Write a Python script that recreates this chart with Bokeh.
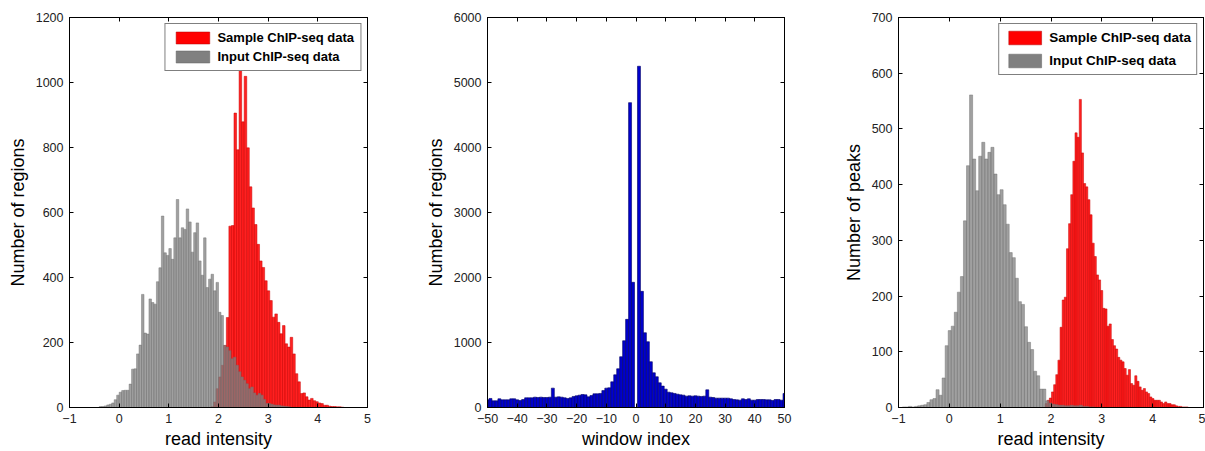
import numpy as np
from bokeh.plotting import figure
from bokeh.models import Range1d, LinearAxis, FixedTicker, Legend, LegendItem
from bokeh.layouts import row
from bokeh.embed import file_html
from bokeh.resources import INLINE

# ---------------- data ----------------
# Panel 1 : read intensity histograms (regions)
p1_input_start = -0.375
p1_input_width = 0.05
p1_input_counts = [3, 3, 5, 8, 10, 14, 24, 38, 47, 52, 53, 53, 72, 118, 119, 165, 192, 348, 229, 226,
                   334, 323, 318, 387, 430, 589, 476, 468, 489, 456, 522, 640, 522, 553, 548, 611, 571,
                   478, 538, 568, 451, 407, 522, 369, 395, 410, 359, 385, 293, 283, 191, 186, 175, 150,
                   155, 130, 110, 94, 84, 73, 58, 63, 45, 38, 43, 38, 25, 12, 12, 10, 8, 7, 7, 5, 4, 3, 2]
p1_sample_start = 1.875
p1_sample_width = 0.0514
p1_sample_counts = [2, 17, 58, 94, 130, 191, 277, 558, 560, 906, 793, 1059, 879, 1019, 799, 679, 614,
                    563, 502, 451, 431, 390, 359, 329, 278, 288, 262, 227, 252, 196, 186, 216, 165, 104,
                    79, 43, 45, 33, 23, 28, 21, 18, 14, 12, 7, 7, 4, 3, 3, 2, 2, 1]

# Panel 2 : window index histogram
p2_window_index = list(range(-50, 51))
p2_counts = [118, 139, 103, 103, 134, 118, 118, 118, 134, 134,      # -50..-41
             118, 108, 123, 149, 149, 149, 159, 154, 159, 154,      # -40..-31
             154, 159, 298, 159, 164, 159, 149, 139, 149, 170,      # -30..-21
             180, 190, 200, 195, 164, 185, 211, 211, 216, 260,      # -20..-11
             298, 303, 395, 503, 596, 781, 1027, 1356, 4690, 1926,  # -10..-1
             0,                                                     # 0
             5250, 1787, 1150, 1012, 704, 534, 473, 380, 329, 282,  # 1..10
             236, 226, 216, 205, 195, 190, 175, 180, 175, 180,      # 11..20
             175, 170, 175, 272, 159, 154, 144, 144, 144, 144,      # 21..30
             144, 134, 123, 118, 113, 134, 123, 134, 113, 113,      # 31..40
             123, 123, 123, 118, 118, 108, 123, 123, 113, 216]      # 41..50

# Panel 3 : read intensity histograms (peaks)
p3_input_start = -0.892
p3_input_width = 0.06
p3_input_counts = [1, 1, 2, 1, 2, 3, 4, 5, 9, 14, 16, 32, 22, 53, 111, 138, 146, 171, 207, 235, 335,
                   434, 561, 446, 389, 451, 476, 446, 458, 467, 419, 382, 391, 364, 329, 278, 269, 232,
                   190, 185, 145, 117, 104, 65, 57, 33, 33, 12, 8, 6, 5, 4, 4, 3, 3, 4, 3, 3, 4, 2, 2, 1, 1]
p3_sample_start = 1.905
p3_sample_width = 0.042
p3_sample_counts = [7, 13, 17, 28, 41, 59, 85, 144, 193, 198, 285, 330, 382, 442, 493, 485, 553, 457,
                    402, 396, 373, 346, 295, 271, 238, 229, 210, 178, 177, 146, 150, 122, 111, 105, 90,
                    85, 82, 70, 58, 68, 43, 40, 57, 47, 37, 31, 34, 28, 25, 19, 16, 13, 13, 13, 10, 7,
                    10, 7, 7, 5, 5, 3, 2, 2, 1, 1, 1]

intensity_ticks = [-1, 0, 1, 2, 3, 4, 5]
window_ticks = [-50, -40, -30, -20, -10, 0, 10, 20, 30, 40, 50]
legend_labels = ["Sample ChIP-seq data", "Input ChIP-seq data"]

FONT = "Liberation Sans"


def centers(start, width, counts):
    return start + width * np.arange(len(counts))


def base_fig(width, height, xr, yr, xticks, yticks, xlabel, ylabel, borders):
    left, right, top, bottom = borders
    p = figure(width=width, height=height, x_range=Range1d(*xr), y_range=Range1d(*yr),
               output_backend="svg", toolbar_location=None,
               min_border_left=left, min_border_right=right,
               min_border_top=top, min_border_bottom=bottom)
    p.xgrid.visible = False
    p.ygrid.visible = False
    p.outline_line_color = "black"
    p.outline_line_width = 1
    p.background_fill_color = "white"
    p.border_fill_color = "white"
    p.xaxis.ticker = FixedTicker(ticks=xticks)
    p.yaxis.ticker = FixedTicker(ticks=yticks)
    for ax in (p.xaxis, p.yaxis):
        ax.major_tick_in = 4
        ax.major_tick_out = 0
        ax.minor_tick_line_color = None
        ax.axis_line_color = "black"
        ax.major_tick_line_color = "black"
        ax.major_label_text_font = FONT
        ax.major_label_text_font_size = "12.5px"
        ax.major_label_text_color = "#222222"
        ax.axis_label_text_font = FONT
        ax.axis_label_text_font_size = "18px"
        ax.axis_label_text_font_style = "normal"
        ax.axis_label_text_color = "black"
    p.xaxis.axis_label = xlabel
    p.yaxis.axis_label = ylabel
    p.xaxis.major_label_standoff = 6
    p.yaxis.major_label_standoff = 6
    p.xaxis.axis_label_standoff = 3
    p.yaxis.axis_label_standoff = 5
    # mirrored ticks on top and right: drawn as label-free minor ticks
    for loc, tk in (("right", yticks), ("above", xticks)):
        ax = LinearAxis(ticker=FixedTicker(ticks=[], minor_ticks=tk),
                        major_tick_line_color=None, minor_tick_in=4, minor_tick_out=0,
                        minor_tick_line_color="black", minor_tick_line_width=1,
                        axis_line_color="black", major_label_standoff=0)
        p.add_layout(ax, loc)
    return p


def add_pair(p, in_start, in_w, in_counts, s_start, s_w, s_counts,
             glyph_w, glyph_h, spacing, padding, font_size):
    p.vbar(x=centers(s_start, s_w, s_counts), top=s_counts, width=s_w, bottom=0,
           fill_color="red", fill_alpha=0.87, line_color="#C80000", line_width=0.5)
    p.vbar(x=centers(in_start, in_w, in_counts), top=in_counts, width=in_w, bottom=0,
           fill_color="#808080", fill_alpha=0.75, line_color="#6E6E6E", line_alpha=0.9, line_width=0.5)
    # legend proxies (opaque patches); NaN data so nothing is drawn in the plot area
    r_red = p.vbar(x=[np.nan], top=[np.nan], width=s_w, bottom=0,
                   fill_color="#FF0000", line_color="#B00000", line_width=0.5)
    r_gray = p.vbar(x=[np.nan], top=[np.nan], width=in_w, bottom=0,
                    fill_color="#808080", line_color="#606060", line_width=0.5)
    leg = Legend(items=[LegendItem(label=legend_labels[0], renderers=[r_red]),
                        LegendItem(label=legend_labels[1], renderers=[r_gray])],
                 location="top_right", margin=6, padding=padding, spacing=spacing,
                 glyph_width=glyph_w, glyph_height=glyph_h, label_height=glyph_h,
                 label_standoff=4, label_text_font=FONT, label_text_font_size=font_size,
                 label_text_font_style="bold", label_text_color="black",
                 border_line_color="black", border_line_width=1,
                 background_fill_color="white", background_fill_alpha=1)
    p.add_layout(leg, "center")


H = 451
# panel 1
p1 = base_fig(420, H, (-1, 5), (0, 1200), intensity_ticks, list(range(0, 1201, 200)),
              "read intensity", "Number of regions", (69, 53, 17, 42))
add_pair(p1, p1_input_start, p1_input_width, p1_input_counts,
         p1_sample_start, p1_sample_width, p1_sample_counts, 42, 15, 4, 6, "13px")

# panel 2
p2 = base_fig(420, H, (-50, 50), (0, 6000), window_ticks, list(range(0, 6001, 1000)),
              "window index", "Number of regions", (67, 56, 17, 42))
p2.vbar(x=p2_window_index, top=p2_counts, width=1.0, bottom=0,
        fill_color="#0000CC", line_color="#000066", line_width=0.6)

# panel 3
p3 = base_fig(365, H, (-1, 5), (0, 700), intensity_ticks, list(range(0, 701, 100)),
              "read intensity", "Number of peaks", (58, 2, 17, 42))
add_pair(p3, p3_input_start, p3_input_width, p3_input_counts,
         p3_sample_start, p3_sample_width, p3_sample_counts, 41, 17, 6, 5, "13.5px")

layout = row(p1, p2, p3, spacing=0)
open("out.html", "w").write(file_html(layout, INLINE))
